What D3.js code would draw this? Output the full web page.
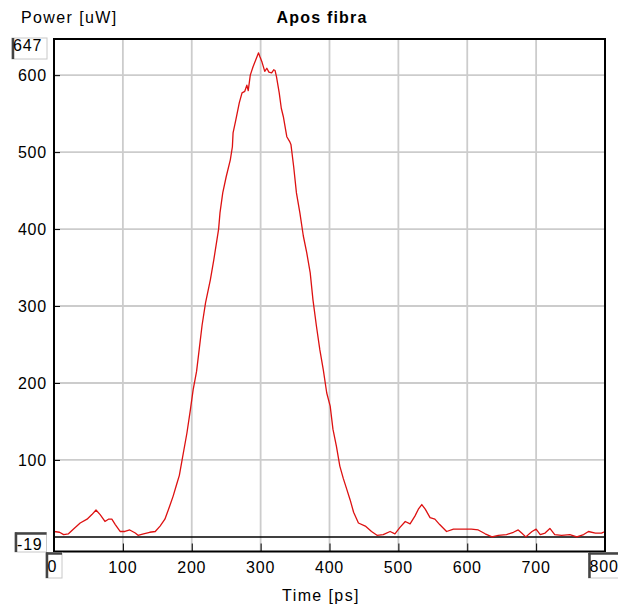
<!DOCTYPE html>
<html>
<head>
<meta charset="utf-8">
<script src="https://cdn.jsdelivr.net/npm/d3@7"></script>
<style>
  body { margin: 0; background: #fff; }
  text { font-family: "Liberation Sans", Arial, sans-serif; fill: #000; }
</style>
</head>
<body>
<script>
// Values
const timePs = [0, 8, 14, 21, 28, 38, 48, 55, 61, 67, 74, 79, 84, 89, 96, 103, 110, 118, 122, 130,
    139, 147, 154, 161, 168, 173, 178, 182, 186, 193, 198, 202, 207, 211, 215, 220, 227, 232, 239, 241, 245,
    250, 256, 259, 260, 264, 269, 273, 277, 280, 282, 285, 289, 293, 297, 299, 302, 306, 309, 312, 316,
    319, 321, 323, 327, 330, 333, 338, 342, 344, 348, 352, 357, 362, 367, 372, 376, 381, 386, 391, 396,
    401, 405, 410, 415, 420, 425, 430, 435, 442, 452, 461, 469, 478, 488, 495, 502, 510, 517, 524, 529,
    534, 539, 546, 553, 560, 570, 580, 590, 597, 606, 616, 626, 636, 645, 657, 667, 674, 679, 685, 694,
    700, 706, 713, 720, 727, 737, 749, 759, 769, 776, 786, 795, 800];
const powerUw = [7, 6, 3, 4, 10, 18, 23, 29, 35, 29, 20, 23, 23, 16, 7, 7, 9, 5, 2, 4,
    6, 7, 14, 23, 40, 53, 68, 80, 100, 135, 165, 191, 215, 245, 275, 304, 334, 360, 400, 421, 447,
    468, 490, 507, 525, 542, 564, 577, 579, 587, 580, 600, 611, 620, 629, 624, 617, 605, 609, 604, 603,
    607, 606, 598, 577, 557, 546, 520, 514, 510, 481, 447, 421, 391, 369, 343, 308, 274, 243, 217, 187,
    170, 140, 118, 92, 76, 62, 48, 32, 18, 14, 7, 2, 3, 7, 4, 12, 20, 17, 27, 36,
    42, 36, 25, 23, 16, 7, 10, 10, 10, 10, 9, 4, 0, 2, 3, 6, 9, 5, 0, 7,
    10, 3, 5, 11, 3, 2, 3, 0, 3, 7, 5, 5, 7];
const xTicks = [100, 200, 300, 400, 500, 600, 700];
const yTicks = [100, 200, 300, 400, 500, 600];
const xRange = [0, 800];
const yRange = [-19, 647];

const W = 618, H = 605;
const plot = { left: 54, right: 605, top: 39, bottom: 551.5 };

const svg = d3.select("body").append("svg")
    .attr("width", W)
    .attr("height", H);

const x = d3.scaleLinear().domain(xRange).range([plot.left, plot.right]);
const y = d3.scaleLinear().domain(yRange).range([plot.bottom, plot.top]);

// grid
svg.append("g")
    .selectAll("line")
    .data(xTicks)
    .enter().append("line")
    .attr("x1", d => x(d)).attr("x2", d => x(d))
    .attr("y1", plot.top).attr("y2", plot.bottom)
    .attr("stroke", "#cccccc")
    .attr("stroke-width", 1.8);

svg.append("g")
    .selectAll("line")
    .data(yTicks)
    .enter().append("line")
    .attr("x1", plot.left).attr("x2", plot.right)
    .attr("y1", d => y(d)).attr("y2", d => y(d))
    .attr("stroke", "#cccccc")
    .attr("stroke-width", 1.8);

// zero line
svg.append("line")
    .attr("x1", plot.left).attr("x2", plot.right)
    .attr("y1", y(0)).attr("y2", y(0))
    .attr("stroke", "#000")
    .attr("stroke-width", 1.5);

// axes with inner ticks
const yAxis = d3.axisRight(y).tickValues(yTicks).tickSize(6).tickFormat("");
svg.append("g")
    .attr("transform", `translate(${plot.left},0)`)
    .call(yAxis)
    .call(g => g.select(".domain").remove());

const xAxis = d3.axisTop(x).tickValues(xTicks).tickSize(8).tickFormat("");
svg.append("g")
    .attr("transform", `translate(0,${plot.bottom})`)
    .call(xAxis)
    .call(g => g.select(".domain").remove());

// tick labels
svg.append("g")
    .selectAll("text")
    .data(yTicks)
    .enter().append("text")
    .attr("x", 47)
    .attr("y", d => y(d) + 6)
    .attr("text-anchor", "end")
    .style("font-size", "16px")
    .style("letter-spacing", "0.8px")
    .text(d => d);

svg.append("g")
    .selectAll("text")
    .data(xTicks)
    .enter().append("text")
    .attr("x", d => x(d))
    .attr("y", 573)
    .attr("text-anchor", "middle")
    .style("font-size", "16px")
    .style("letter-spacing", "0.8px")
    .text(d => d);

// data line
const line = d3.line()
    .x((d, i) => x(timePs[i]))
    .y(d => y(d));

svg.append("path")
    .datum(powerUw)
    .attr("fill", "none")
    .attr("stroke", "#dd1111")
    .attr("stroke-width", 1.3)
    .attr("stroke-linejoin", "round")
    .attr("d", line);

// frame
svg.append("rect")
    .attr("x", plot.left).attr("y", plot.top)
    .attr("width", plot.right - plot.left)
    .attr("height", plot.bottom - plot.top)
    .attr("fill", "none")
    .attr("stroke", "#000")
    .attr("stroke-width", 2);

// range boxes (axis min / max fields)
function rangeBox(bx, by, bw, bh, label, tx, ty, darkTop) {
    const g = svg.append("g");
    g.append("rect")
        .attr("x", bx).attr("y", by)
        .attr("width", bw).attr("height", bh)
        .attr("fill", "#fff")
        .attr("stroke", "#c8c8c8")
        .attr("stroke-width", 1);
    g.append("line")
        .attr("x1", bx + 1).attr("x2", bx + 1)
        .attr("y1", by).attr("y2", by + bh)
        .attr("stroke", "#444")
        .attr("stroke-width", 2.5);
    if (darkTop) {
        g.append("line")
            .attr("x1", bx).attr("x2", bx + bw)
            .attr("y1", by + 1).attr("y2", by + 1)
            .attr("stroke", "#444")
            .attr("stroke-width", 2.5);
    }
    g.append("text")
        .attr("x", tx).attr("y", ty)
        .style("font-size", "16px")
        .style("letter-spacing", "0.8px")
        .text(label);
}

rangeBox(12, 38, 35, 21, yRange[1], 13, 51, false);
rangeBox(15, 532.5, 31.5, 19.5, yRange[0], 17, 550, true);
rangeBox(46, 552.5, 16, 25.5, xRange[0], 47.5, 572, true);
rangeBox(588.5, 552.5, 32, 25.5, xRange[1], 589.5, 572, true);

// titles
svg.append("text")
    .attr("x", 21).attr("y", 23)
    .style("font-size", "16px")
    .style("letter-spacing", "1.4px")
    .text("Power [uW]");

svg.append("text")
    .attr("x", 322).attr("y", 23)
    .attr("text-anchor", "middle")
    .style("font-size", "16px")
    .style("font-weight", "bold")
    .style("letter-spacing", "1.2px")
    .text("Apos fibra");

svg.append("text")
    .attr("x", 321).attr("y", 601)
    .attr("text-anchor", "middle")
    .style("font-size", "16px")
    .style("letter-spacing", "1.4px")
    .text("Time [ps]");
</script>
</body>
</html>
